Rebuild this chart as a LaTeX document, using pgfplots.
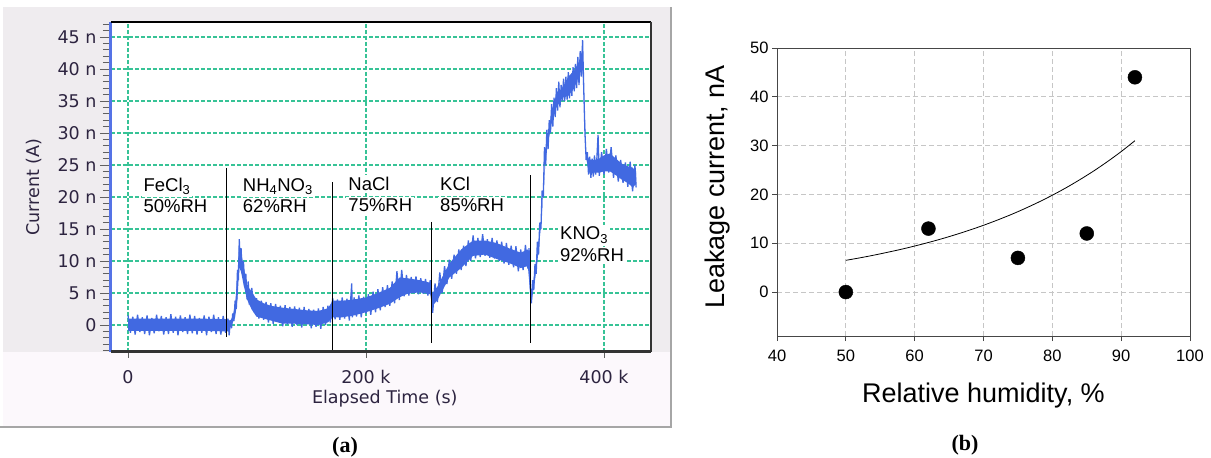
\documentclass[border=0pt]{standalone}
\usepackage{fontspec}
\setmainfont{Liberation Sans}
\newfontfamily\uifont{DejaVu Sans}
\newfontfamily\serifb{Liberation Serif}
\usepackage{pgfplots}
\pgfplotsset{compat=1.18}
\definecolor{gridteal}{RGB}{55,195,150}
\definecolor{trace}{RGB}{65,105,225}
\definecolor{uitext}{RGB}{45,36,64}
\definecolor{panelbg}{RGB}{239,236,239}
\definecolor{panellow}{RGB}{252,248,252}
\definecolor{yaxisblue}{RGB}{85,115,230}
\begin{document}
\begin{tikzpicture}
\path[use as bounding box] (0,0) rectangle (1211pt,458pt);
\fill[panelbg] (3pt,106pt) rectangle (671pt,451pt);
\fill[panellow] (3pt,32pt) rectangle (671pt,106pt);
\draw[gray!70, line width=1.5pt] (0pt,31pt) -- (671pt,31pt) -- (671pt,451pt);
\begin{axis}[
  at={(111pt,106pt)}, anchor=south west, scale only axis,
  width=540pt, height=330pt,
  xmin=-14.3, xmax=439.5, ymin=-4.22, ymax=47.34,
  axis background/.style={fill=white},
  axis line style={draw=none},
  xtick={0,200,400}, xticklabels={0,200 k,400 k},
  ytick={0,5,...,45}, yticklabels={0,5 n,10 n,15 n,20 n,25 n,30 n,35 n,40 n,45 n},
  minor ytick={-4,-3,-2,-1,1,2,3,4,6,7,8,9,11,12,13,14,16,17,18,19,21,22,23,24,26,27,28,29,31,32,33,34,36,37,38,39,41,42,43,44,46,47},
  xmajorgrids=true, ymajorgrids=true,
  major grid style={gridteal, dash pattern=on 4pt off 2pt, line width=1.1pt},
  tick align=outside, ytick pos=left,
  major tick length=11pt, minor tick length=8pt,
  every tick/.style={gray!75!black, line width=0.8pt},
  xtick style={draw=none},
  xticklabel style={yshift=-4pt},
  ticklabel style={font=\uifont\fontsize{17.5}{20}\selectfont, text=uitext},
  label style={font=\uifont\fontsize{17.5}{20}\selectfont, text=uitext},
  xlabel={Elapsed Time (s)}, ylabel={Current (A)},
  xlabel style={at={(axis description cs:0.507,-0.142)}, anchor=center},
  ylabel style={at={(axis description cs:-0.1426,0.5)}, anchor=center},
  clip=false
]
% inner body of the noisy current band (upper edge left to right, lower edge back)
\addplot[fill=trace, draw=none] coordinates {
(0,1.0) (20,1.0) (40,1.0) (60,1.0) (84,0.9) (86,0.6) (88,1.4) (90,3.2) (92,8.0) (93.5,12.8)
(95,11.4) (97,9.4) (100,6.2) (104,5.2) (108,4.0) (114,3.4) (120,3.0) (130,2.7) (140,2.5) (150,2.3)
(160,2.2) (168,2.6) (172,3.8) (180,3.8) (190,4.0) (200,4.3) (210,5.0) (220,5.8) (228,7.4) (235,7.3)
(245,7.0) (254,6.6) (256,5.0) (260,6.0) (270,9.6) (280,11.8) (290,13.2) (300,13.2) (310,12.8) (320,12.0)
(330,11.3) (336,11.8) (338,7.0) (339,4.0) (342,9.0) (345,12.5) (347,16.0) (349,21.0) (351,26.5) (353,29.5)
(356,33.5) (360,36.0) (365,37.0) (370,38.8) (375,39.8) (380,41.5) (382,43.5) (383,37.0) (385,26.5) (388,25.8)
(392,25.8) (396,26.0) (400,26.5) (405,26.8) (410,26.0) (415,25.2) (420,24.8) (424,24.6) (427,24.0)
(427,22.0) (424,21.5) (420,22.2) (415,22.7) (410,23.4) (405,24.0) (400,24.0) (396,23.8) (392,23.8) (388,23.6)
(385,26.0) (383,36.0) (382,40.0) (380,39.4) (375,37.0) (370,35.8) (365,35.5) (360,34.0) (356,31.5) (353,28.5)
(351,26.0) (349,20.5) (347,15.5) (345,11.5) (342,7.0) (339,3.6) (338,5.0) (336,9.2) (330,8.9) (320,9.7)
(310,10.3) (300,11.0) (290,10.8) (280,8.9) (270,7.4) (260,3.9) (256,3.0) (254,4.8) (245,5.1) (235,4.9)
(228,4.3) (220,3.3) (210,2.6) (200,2.0) (190,1.5) (180,1.2) (172,1.2) (168,0.4) (160,0.0) (150,0.1)
(140,0.2) (130,0.2) (120,0.7) (114,1.0) (108,1.3) (104,2.4) (100,4.0) (97,6.4) (95,8.3) (93.5,9.0)
(92,4.0) (90,1.2) (88,0.4) (86,-0.3) (84,-1.0) (60,-0.9) (40,-0.9) (20,-0.9) (0,-0.9)
};
\addplot[trace, line width=1.3pt, line join=bevel] coordinates {
(0,1.5) (2,-1.2) (4,1.3) (6,-1.5) (8,1.6) (10,-1.1) (12,1.2) (14,-1.4) (16,1.5) (18,-1.6)
(20,1.1) (22,-1.3) (24,1.6) (26,-1.0) (28,1.4) (30,-1.5) (32,1.2) (34,-1.4) (36,1.7) (38,-1.2)
(40,1.3) (42,-1.6) (44,1.5) (46,-1.1) (48,1.2) (50,-1.4) (52,1.6) (54,-1.3) (56,1.4) (58,-1.5)
(60,1.1) (62,-1.2) (64,1.5) (66,-1.6) (68,1.3) (70,-1.1) (72,1.6) (74,-1.4) (76,1.2) (78,-1.5)
(80,1.4) (82,-1.2) (84,1.0) (85,-1.6) (86,0.8) (87,-0.5) (88,1.8) (89,0.6) (90,3.8) (91,2.5)
(92,8.6) (92.8,7.0) (93.5,13.4) (94.2,9.5) (95,12.0) (96,8.0) (97,10.0) (98,6.0) (99,8.0) (100,4.0)
(101,6.8) (102,3.2) (104,5.8) (106,2.0) (108,4.2) (110,1.0) (112,3.8) (114,0.8) (116,3.6) (118,0.4)
(120,3.4) (122,0.2) (124,3.3) (126,0.5) (128,3.0) (130,-0.2) (132,3.1) (134,0.1) (136,2.8) (138,-0.3)
(140,2.9) (142,0.0) (144,2.7) (146,-0.4) (148,2.8) (150,0.2) (152,2.5) (154,-0.5) (156,2.4) (158,-0.3)
(160,2.6) (162,-0.6) (164,2.8) (166,0.0) (168,3.0) (170,0.4) (172,4.2) (174,0.9) (176,4.0) (178,0.8)
(180,4.3) (182,1.0) (184,4.1) (186,0.7) (188,6.5) (188.5,1.2) (190,4.3) (192,1.3) (194,4.6) (196,1.2)
(198,4.4) (200,1.8) (202,4.8) (204,1.6) (206,5.2) (208,2.0) (210,5.6) (212,2.3) (214,5.9) (216,2.8)
(218,6.2) (220,3.0) (222,6.8) (224,3.4) (226,8.4) (228,3.9) (230,8.6) (232,4.5) (234,7.8) (236,4.6)
(238,7.5) (240,5.0) (242,7.6) (244,4.8) (246,7.3) (248,4.9) (250,7.2) (252,4.6) (254,7.0) (256,1.9)
(258,6.5) (260,3.6) (262,8.2) (264,5.0) (266,9.2) (268,6.4) (270,10.2) (272,7.2) (274,11.0) (276,8.0)
(278,11.8) (280,8.6) (282,12.4) (284,9.2) (286,13.2) (288,10.0) (290,14.0) (292,10.4) (294,13.6) (296,10.6)
(298,14.2) (300,10.8) (302,13.4) (304,10.5) (306,13.6) (308,10.4) (310,13.2) (312,10.0) (314,13.0) (316,9.6)
(318,12.8) (320,9.4) (322,12.4) (324,9.0) (326,12.3) (328,8.4) (330,11.8) (332,8.6) (334,12.5) (336,8.8)
(337,12.0) (338,6.0) (339,3.4) (340,7.0) (341,5.5) (342,9.5) (343,8.0) (344,13.0) (345,11.0) (346,16.0)
(347,15.0) (348,21.0) (349,20.0) (350,27.8) (351,25.0) (352,30.5) (353,27.5) (354,32.0) (355,30.0) (356,34.5)
(357,31.0) (358,35.5) (359,32.5) (360,37.0) (361,33.5) (362,38.0) (363,34.0) (364,37.5) (365,35.0) (366,38.5)
(367,35.0) (368,38.8) (369,35.2) (370,39.5) (371,35.4) (372,38.8) (373,35.8) (374,40.3) (375,36.5) (376,40.8)
(377,37.0) (378,41.9) (379,37.5) (380,42.8) (381,38.8) (382,44.5) (383,36.7) (384,30.0) (385,25.8) (386,27.0)
(387,23.5) (388,26.3) (389,23.0) (390,26.0) (391,23.2) (392,26.5) (393,23.5) (394,26.0) (395,29.7) (396,23.3)
(398,27.0) (400,23.5) (402,27.5) (404,23.8) (406,27.8) (408,23.0) (410,26.5) (412,22.4) (414,25.8) (416,22.2)
(418,25.4) (420,21.6) (422,25.5) (424,20.9) (426,25.0) (427,21.5)
};
\addplot[black, line width=0.8pt] coordinates {(82.9,24.5) (82.9,-1.9)};
\addplot[black, line width=0.8pt] coordinates {(171.8,22.3) (171.8,-4.22)};
\addplot[black, line width=0.8pt] coordinates {(254.6,16.1) (254.6,-2.8)};
\addplot[black, line width=0.8pt] coordinates {(337.8,23.4) (337.8,-2.8)};
\begin{scope}[every node/.style={anchor=base west, fill=white, inner sep=2pt, xshift=-2pt, font=\fontsize{18.5}{20}\selectfont}]
\node at (axis cs:12.9,20.83) {FeCl\textsubscript{3}};
\node at (axis cs:12.9,17.55) {50\%RH};
\node at (axis cs:96.4,20.83) {NH\textsubscript{4}NO\textsubscript{3}};
\node at (axis cs:96.4,17.55) {62\%RH};
\node at (axis cs:185.1,20.98) {NaCl};
\node at (axis cs:185.1,17.7) {75\%RH};
\node at (axis cs:262.2,20.98) {KCl};
\node at (axis cs:262.2,17.7) {85\%RH};
\node at (axis cs:363,13.28) {KNO\textsubscript{3}};
\node at (axis cs:363,9.89) {92\%RH};
\end{scope}
\draw[gray!75!black, line width=0.8pt] (axis cs:0,-4.22) -- ([yshift=-6pt]axis cs:0,-4.22);
\draw[gray!75!black, line width=0.8pt] (axis cs:200,-4.22) -- ([yshift=-6pt]axis cs:200,-4.22);
\draw[gray!75!black, line width=0.8pt] (axis cs:400,-4.22) -- ([yshift=-6pt]axis cs:400,-4.22);
\draw[yaxisblue, line width=3pt] (rel axis cs:0,0) -- (rel axis cs:0,1);
\draw[black, line width=1.5pt] (rel axis cs:0,1) -- (rel axis cs:1,1);
\draw[gray!40!black, line width=2pt] (rel axis cs:1,1) -- (rel axis cs:1,0);
\draw[gray!40!black, line width=3pt] (rel axis cs:0,0) -- (rel axis cs:1,0);
\end{axis}
\begin{axis}[
  at={(777pt,122pt)}, anchor=south west, scale only axis,
  width=413pt, height=288pt,
  xmin=40, xmax=100, ymin=-9, ymax=50,
  xtick={40,50,...,100}, ytick={0,10,...,50},
  grid=major,
  major grid style={gray!45, dash pattern=on 5pt off 3pt, line width=0.8pt},
  axis line style={gray!55!black, line width=0.9pt},
  tick align=outside, major tick length=5pt,
  xtick pos=bottom, ytick pos=left,
  every tick/.style={gray!55!black, line width=0.9pt},
  /pgf/number format/assume math mode=true,
  ticklabel style={font=\fontsize{16.5}{18}\selectfont},
  xticklabel style={yshift=-5pt},
  label style={font=\fontsize{27}{30}\selectfont},
  xlabel={Relative humidity, \%}, ylabel={Leakage current, nA},
  xlabel style={at={(axis description cs:0.5,-0.205)}, anchor=center},
  ylabel style={at={(axis description cs:-0.143,0.517)}, anchor=center},
  clip=false
]
\addplot[black, line width=0.8pt, smooth] coordinates {
(50,6.50) (52,7.00) (54,7.54) (56,8.13) (58,8.75) (60,9.43) (62,10.16) (64,10.94) (66,11.79)
(68,12.70) (70,13.68) (72,14.74) (74,15.87) (76,17.10) (78,18.42) (80,19.84) (82,21.37)
(84,23.03) (86,24.80) (88,26.72) (90,28.78) (92,31.01)
};
\addplot[only marks, mark=*, mark size=7pt, black] coordinates {(50,0) (62,13) (75,7) (85,12) (92,44)};
\end{axis}
\node[font=\serifb\bfseries\fontsize{22}{24}\selectfont] at (345pt,11pt) {(a)};
\node[font=\serifb\bfseries\fontsize{22}{24}\selectfont] at (965pt,13pt) {(b)};
\end{tikzpicture}
\end{document}
